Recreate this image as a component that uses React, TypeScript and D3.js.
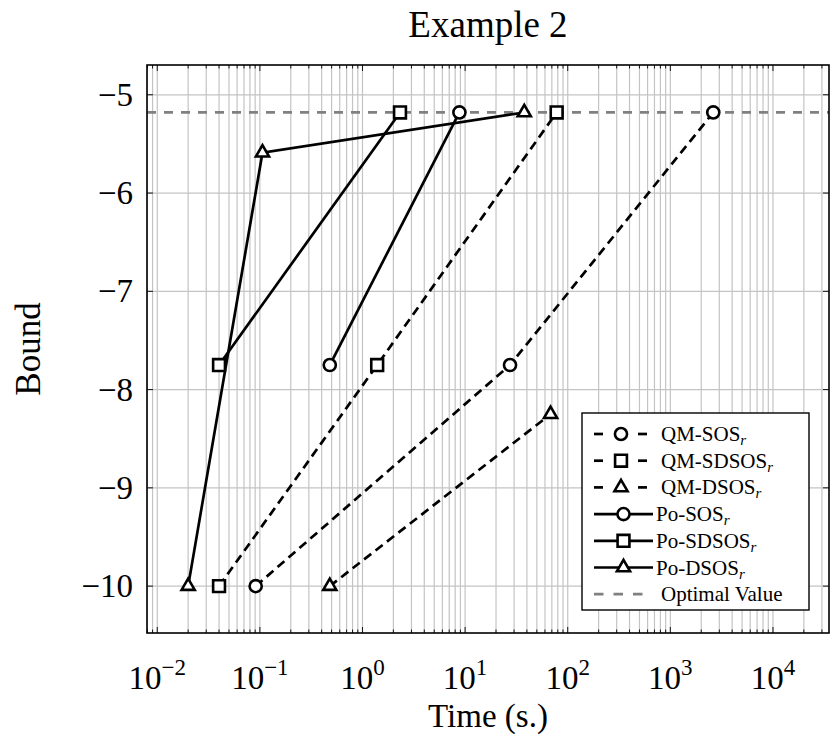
import * as d3 from "d3";

// series: time (s.) and bound
const qmSosTime = [0.091, 27.4, 2620];
const qmSosBound = [-10, -7.75, -5.18];
const qmSdsosTime = [0.04, 1.39, 78];
const qmSdsosBound = [-10, -7.75, -5.18];
const qmDsosTime = [0.48, 68];
const qmDsosBound = [-10, -8.25];
const poSosTime = [0.48, 8.8];
const poSosBound = [-7.75, -5.18];
const poSdsosTime = [0.04, 2.32];
const poSdsosBound = [-7.75, -5.18];
const poDsosTime = [0.02, 0.106, 37.7];
const poDsosBound = [-10, -5.59, -5.18];
const optimalValue = -5.18;

const yTicks = [-10, -9, -8, -7, -6, -5];
const xDecades = [-2, -1, 0, 1, 2, 3, 4];
const legendNames = ["QM-SOS", "QM-SDSOS", "QM-DSOS", "Po-SOS", "Po-SDSOS", "Po-DSOS"];

const FONT = "'Liberation Serif', 'DejaVu Serif', serif";

type Series = {name: string, time: number[], bound: number[], mark: string, dashed: boolean};

const series: Series[] = [
    {name: legendNames[0], time: qmSosTime, bound: qmSosBound, mark: "circle", dashed: true},
    {name: legendNames[1], time: qmSdsosTime, bound: qmSdsosBound, mark: "square", dashed: true},
    {name: legendNames[2], time: qmDsosTime, bound: qmDsosBound, mark: "triangle", dashed: true},
    {name: legendNames[3], time: poSosTime, bound: poSosBound, mark: "circle", dashed: false},
    {name: legendNames[4], time: poSdsosTime, bound: poSdsosBound, mark: "square", dashed: false},
    {name: legendNames[5], time: poDsosTime, bound: poDsosBound, mark: "triangle", dashed: false},
];

const symbolFor = (m: string) => {
    if (m === "circle") return d3.symbol(d3.symbolCircle, 115)();
    if (m === "square") return d3.symbol(d3.symbolSquare, 140)();
    return d3.symbol(d3.symbolTriangle, 75)();
};

function Marker({x, y, mark}: {x: number, y: number, mark: string}) {
    return <path d={symbolFor(mark) || ""} transform={`translate(${x},${y})`}
                 fill="white" stroke="black" strokeWidth={2.6}/>;
}

export default function App() {
    const width = 831;
    const height = 745;
    const left = 147, right = 829, top = 65, bottom = 633;

    const xScale = d3.scaleLog().domain([10 ** -2.1, 10 ** 4.546]).range([left, right]);
    const yScale = d3.scaleLinear().domain([-10.477, -4.697]).range([bottom, top]);

    const [x0, x1] = xScale.domain();
    const minor: number[] = [];
    for (let e = -3; e <= 5; e++) {
        for (let k = 1; k <= 9; k++) {
            const v = k * 10 ** e;
            if (v > x0 && v < x1) minor.push(v);
        }
    }

    const line = d3.line<[number, number]>().x(d => xScale(d[0])).y(d => yScale(d[1]));

    const gridColor = "#c4c4c4";
    const legX = 582, legY = 413, legW = 227, legH = 197;
    const rowY = (i: number) => legY + 21 + i * 26.7;

    return (
        <svg width={width} height={height} style={{position: "absolute", left: 0, top: 0}}
             fontFamily={FONT}>
            <rect x={0} y={0} width={width} height={height} fill="white"/>

            {/* grid */}
            {minor.map((v, i) =>
                <line key={"gx" + i} x1={xScale(v)} x2={xScale(v)} y1={top} y2={bottom}
                      stroke={gridColor} strokeWidth={1.2}/>
            )}
            {yTicks.map(v =>
                <line key={"gy" + v} x1={left} x2={right} y1={yScale(v)} y2={yScale(v)}
                      stroke={gridColor} strokeWidth={1.2}/>
            )}

            {/* ticks */}
            {minor.map((v, i) => {
                const major = Math.abs(Math.log10(v) - Math.round(Math.log10(v))) < 1e-9;
                const len = major ? 6 : 3.5;
                return <g key={"tx" + i} stroke="black" strokeWidth={0.9}>
                    <line x1={xScale(v)} x2={xScale(v)} y1={bottom} y2={bottom - len}/>
                    <line x1={xScale(v)} x2={xScale(v)} y1={top} y2={top + len}/>
                </g>
            })}
            {yTicks.map(v =>
                <g key={"ty" + v} stroke="black" strokeWidth={0.9}>
                    <line x1={left} x2={left + 6} y1={yScale(v)} y2={yScale(v)}/>
                    <line x1={right} x2={right - 6} y1={yScale(v)} y2={yScale(v)}/>
                </g>
            )}

            {/* optimal value */}
            <line x1={left} x2={right} y1={yScale(optimalValue)} y2={yScale(optimalValue)}
                  stroke="#808080" strokeWidth={2.8} strokeDasharray="9 8"/>

            {/* series */}
            {series.map(s =>
                <path key={s.name} d={line(s.time.map((t, i) => [t, s.bound[i]] as [number, number])) || ""}
                      fill="none" stroke="black" strokeWidth={2.7}
                      strokeDasharray={s.dashed ? "9 5.5" : undefined}/>
            )}
            {series.map(s => s.time.map((t, i) =>
                <Marker key={s.name + i} x={xScale(t)} y={yScale(s.bound[i])} mark={s.mark}/>
            ))}

            <rect x={left} y={top} width={right - left} height={bottom - top}
                  fill="none" stroke="black" strokeWidth={1.6}/>

            {/* tick labels */}
            {yTicks.map(v =>
                <text key={"ly" + v} x={left - 14} y={yScale(v) + 11} textAnchor="end" fontSize={33}>
                    {"\u2212" + Math.abs(v)}
                </text>
            )}
            {xDecades.map(e =>
                <text key={"lx" + e} x={xScale(10 ** e)} y={689} textAnchor="middle" fontSize={33}>
                    10<tspan dy={-14} fontSize={23}>{e < 0 ? "\u2212" + Math.abs(e) : e}</tspan>
                </text>
            )}

            {/* titles */}
            <text x={(left + right) / 2} y={37} textAnchor="middle" fontSize={37}>Example 2</text>
            <text x={(left + right) / 2} y={727} textAnchor="middle" fontSize={33}>Time (s.)</text>
            <text transform={`translate(40,${(top + bottom) / 2}) rotate(-90)`} textAnchor="middle"
                  fontSize={35}>Bound</text>

            {/* legend */}
            <rect x={legX} y={legY} width={legW} height={legH} fill="white" stroke="black" strokeWidth={1.4}/>
            {series.map((s, i) =>
                <g key={"leg" + i}>
                    {s.dashed ? <>
                        <line x1={594} x2={603} y1={rowY(i)} y2={rowY(i)} stroke="black" strokeWidth={2.7}/>
                        <line x1={638} x2={647} y1={rowY(i)} y2={rowY(i)} stroke="black" strokeWidth={2.7}/>
                    </> : <line x1={594} x2={653} y1={rowY(i)} y2={rowY(i)} stroke="black" strokeWidth={2.7}/>}
                    <Marker x={s.dashed ? 621 : 623.5} y={rowY(i)} mark={s.mark}/>
                    <text x={s.dashed ? 661 : 656} y={rowY(i) + 7} fontSize={21}>
                        {s.name}<tspan dy={4} fontSize={15} fontStyle="italic">r</tspan>
                    </text>
                </g>
            )}
            <line x1={594} x2={647} y1={rowY(6)} y2={rowY(6)} stroke="#808080" strokeWidth={2.8}
                  strokeDasharray="9.5 10"/>
            <text x={661} y={rowY(6) + 7} fontSize={21}>Optimal Value</text>
        </svg>
    );
}
